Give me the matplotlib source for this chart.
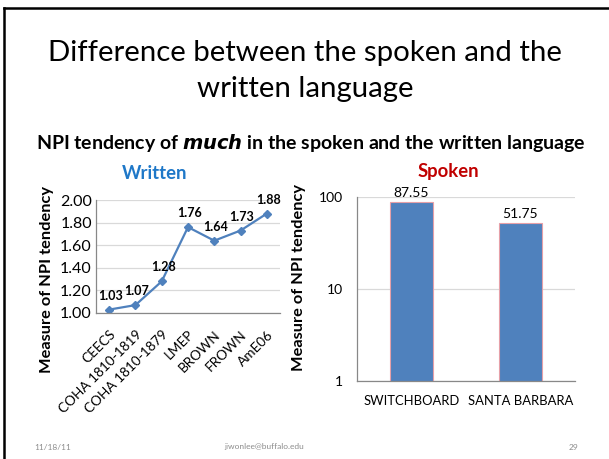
import matplotlib
matplotlib.use("Agg")
import matplotlib.pyplot as plt
from matplotlib.lines import Line2D

plt.rcParams['font.family'] = ['Lato', 'DejaVu Sans']

written_cats = ["CEECS", "COHA 1810-1819", "COHA 1810-1879", "LMEP", "BROWN", "FROWN", "AmE06"]
written_vals = [1.03, 1.07, 1.28, 1.76, 1.64, 1.73, 1.88]
written_yticks = [1.00, 1.20, 1.40, 1.60, 1.80, 2.00]

spoken_cats = ["SWITCHBOARD", "SANTA BARBARA"]
spoken_vals = [87.55, 51.75]
spoken_yticks = [1, 10, 100]

W, H = 609, 459
fig = plt.figure(figsize=(W / 100, H / 100), dpi=100)
fig.patch.set_facecolor('white')

def fx(x):
    return x / W

def fy(y):
    return 1 - y / H

# slide frame
fig.add_artist(Line2D([fx(3.5), fx(3.5)], [fy(7.5), 0], color='black', lw=1.8))
fig.add_artist(Line2D([fx(3.5), 1], [fy(7.5), fy(7.5)], color='black', lw=1.8))

# titles
fig.text(fx(305), fy(53), "Difference between the spoken and the", ha='center', va='center', fontsize=21.2, color='black')
fig.text(fx(305), fy(89), "written language", ha='center', va='center', fontsize=21.2, color='black')
fig.text(fx(311), fy(143), r"NPI tendency of $\mathbfit{much}$ in the spoken and the written language",
         ha='center', va='center', fontsize=14, fontweight='bold', color='black')

blue = '#4F81BD'
grid_c = '#D9D9D9'
spine_c = '#888888'

fig.text(fx(155), fy(173), "Written", color='#1F78C8', fontsize=13.3, fontweight='bold', ha='center', va='center')
fig.text(fx(448), fy(172), "Spoken", color='#C00000', fontsize=13.3, fontweight='bold', ha='center', va='center')

# Written (line chart)
ax1 = fig.add_axes([fx(96), fy(313), fx(280) - fx(96), (313 - 200) / H])
x1 = list(range(len(written_cats)))
ax1.plot(x1, written_vals, color=blue, lw=1.6, marker='D', markersize=4, markerfacecolor=blue, markeredgecolor=blue)
ax1.set_xlim(-0.5, len(written_cats) - 0.5)
ax1.set_ylim(1.0, 2.0)
ax1.set_yticks(written_yticks)
ax1.set_yticklabels([f"{v:.2f}" for v in written_yticks], fontsize=11.5)
ax1.set_xticks(x1)
ax1.set_xticklabels(written_cats, rotation=45, ha='right', rotation_mode='anchor', fontsize=9.8)
ax1.tick_params(axis='y', length=0, pad=3)
ax1.tick_params(axis='x', length=0, pad=11)
ax1.grid(axis='y', color=grid_c, lw=0.9)
ax1.set_axisbelow(True)
for s in ['top', 'right']:
    ax1.spines[s].set_visible(False)
for s in ['left', 'bottom']:
    ax1.spines[s].set_color(spine_c)
    ax1.spines[s].set_linewidth(0.9)
for xi, v in zip(x1, written_vals):
    ax1.annotate(f"{v:.2f}", (xi, v), xytext=(1, 10), textcoords='offset points',
                 ha='center', va='center', fontsize=9, fontweight='bold')
ax1.set_ylabel("Measure of NPI tendency", fontsize=11.8, fontweight='bold')
ax1.yaxis.set_label_coords(-0.23, 0.30)

# Spoken (bar chart, log)
ax2 = fig.add_axes([fx(357), fy(381), fx(575) - fx(357), (381 - 197) / H])
x2 = list(range(len(spoken_cats)))
ax2.bar(x2, spoken_vals, width=0.4, color=blue, edgecolor='#E6A0A8', linewidth=0.8, bottom=0)
ax2.set_yscale('log')
ax2.set_ylim(1, 100)
ax2.set_xlim(-0.5, len(spoken_cats) - 0.5)
ax2.set_yticks(spoken_yticks)
ax2.set_yticklabels([str(v) for v in spoken_yticks], fontsize=10)
ax2.minorticks_off()
ax2.set_xticks(x2)
ax2.set_xticklabels(spoken_cats, fontsize=9.4)
ax2.tick_params(axis='x', length=0, pad=10)
ax2.tick_params(axis='y', length=0, pad=10)
ax2.grid(axis='y', color=grid_c, lw=0.9)
ax2.set_axisbelow(True)
for s in ['top', 'right']:
    ax2.spines[s].set_visible(False)
for s in ['left', 'bottom']:
    ax2.spines[s].set_color(spine_c)
    ax2.spines[s].set_linewidth(0.9)
for xi, v in zip(x2, spoken_vals):
    ax2.annotate(f"{v:.2f}", (xi, v), xytext=(0, 7), textcoords='offset points',
                 ha='center', va='center', fontsize=10)
ax2.set_ylabel("Measure of NPI tendency", fontsize=11.8, fontweight='bold')
ax2.yaxis.set_label_coords(-0.233, 0.56)

# footer
fig.text(fx(53), fy(447), "11/18/11", ha='center', va='center', fontsize=6, color='#8C8C8C')
fig.text(fx(264), fy(447), "jiwonlee@buffalo.edu", ha='center', va='center', fontsize=6, color='#8C8C8C')
fig.text(fx(574), fy(447), "29", ha='center', va='center', fontsize=6, color='#8C8C8C')

fig.savefig("out.png", dpi=100)
